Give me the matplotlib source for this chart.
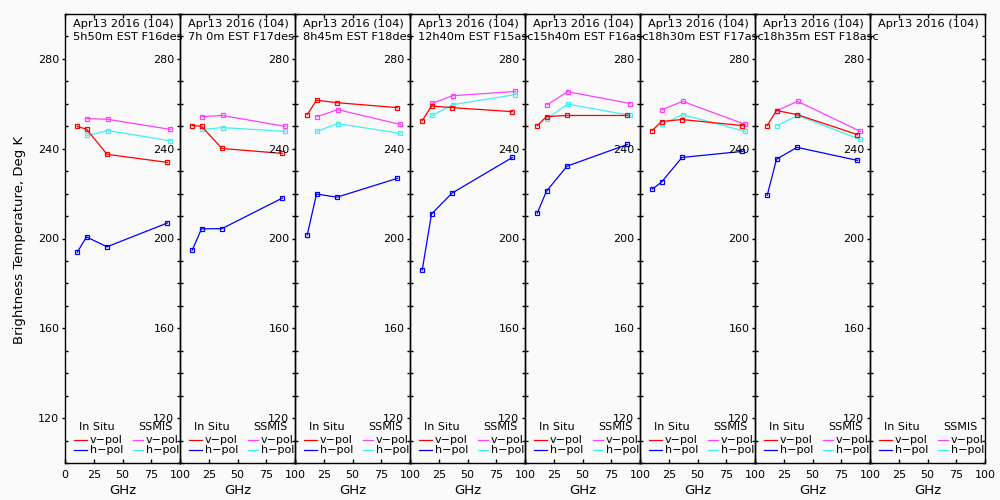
import matplotlib
matplotlib.use("Agg")
import matplotlib.pyplot as plt
from matplotlib.ticker import MultipleLocator, FixedLocator

# ---- data ----
insitu_freq = [10.65, 18.7, 36.5, 89.0]
ssmis_freq = [19.35, 37.0, 91.655]

titles_line1 = ["Apr13 2016 (104)"] * 8
titles_line2 = ["5h50m EST F16des", "7h 0m EST F17des", "8h45m EST F18des",
                "12h40m EST F15asc", "15h40m EST F16asc", "18h30m EST F17asc",
                "18h35m EST F18asc", ""]

insitu_v = [
    [249.9, 248.7, 237.5, 233.9],
    [250.3, 250.0, 240.1, 237.9],
    [255.2, 261.6, 260.5, 258.3],
    [252.5, 259.0, 258.3, 256.5],
    [250.3, 254.3, 254.8, 254.8],
    [248.1, 252.1, 253.0, 250.3],
    [250.3, 257.0, 255.2, 246.3],
    None,
]
insitu_h = [
    [193.9, 200.7, 196.3, 206.9],
    [194.8, 204.3, 204.4, 218.0],
    [201.6, 219.8, 218.4, 226.8],
    [186.0, 210.9, 220.2, 236.1],
    [211.3, 221.1, 232.2, 241.9],
    [222.0, 225.1, 236.1, 238.8],
    [219.3, 235.3, 240.6, 234.8],
    None,
]
ssmis_v = [
    [253.4, 253.1, 248.6],
    [254.3, 254.8, 249.9],
    [254.3, 257.4, 250.8],
    [260.2, 263.6, 265.5],
    [259.6, 265.4, 260.1],
    [257.4, 261.1, 250.8],
    [257.0, 261.1, 247.7],
    None,
]
ssmis_h = [
    [245.9, 248.1, 243.5],
    [248.6, 249.4, 247.7],
    [247.7, 251.2, 246.8],
    [254.8, 259.6, 264.1],
    [253.4, 259.9, 254.8],
    [250.8, 255.2, 247.7],
    [250.3, 254.8, 244.1],
    None,
]

x_ticks = [0, 25, 50, 75, 100]
y_major = [120, 160, 200, 240, 280]

C_RED = "#ff0000"
C_BLUE = "#0000ff"
C_MAG = "#ff40ff"
C_CYAN = "#40f0f0"
BG = "#fafafa"

plt.rcParams['font.family'] = ['DejaVu Sans']
fig = plt.figure(figsize=(10, 5), dpi=100, facecolor=BG)

left0 = 0.065
pw = 0.115
bottom = 0.074
height = 0.898

lw = 0.9
ms = 3.4

for i in range(8):
    ax = fig.add_axes([left0 + i * pw, bottom, pw, height])
    ax.set_facecolor("none")
    ax.set_xlim(0, 100)
    ax.set_ylim(100, 300)
    for sp in ax.spines.values():
        sp.set_linewidth(1.0)
        sp.set_color("black")

    def plot_series(freqs, vals, color):
        if vals is None:
            return
        ax.plot(freqs, vals, color=color, lw=lw, marker="s", ms=ms,
                mfc="none", mec=color, mew=0.9, clip_on=False)

    plot_series(ssmis_freq, ssmis_v[i], C_MAG)
    plot_series(ssmis_freq, ssmis_h[i], C_CYAN)
    plot_series(insitu_freq, insitu_v[i], C_RED)
    plot_series(insitu_freq, insitu_h[i], C_BLUE)

    # x ticks
    ax.xaxis.set_major_locator(FixedLocator(x_ticks))
    if i == 0:
        ax.set_xticklabels([str(t) for t in x_ticks])
    else:
        ax.set_xticklabels([""] + [str(t) for t in x_ticks[1:]])
    ax.tick_params(axis="x", which="major", direction="in", length=3,
                   width=1, top=True, bottom=True, labelsize=8, pad=5)
    ax.set_xlabel("GHz", fontsize=9.5, labelpad=3)

    # y ticks: major outward with labels on left, minor inward both sides
    ax.yaxis.set_major_locator(FixedLocator(y_major))
    ax.yaxis.set_minor_locator(MultipleLocator(10))
    ax.tick_params(axis="y", which="major", direction="out", length=2.5,
                   width=1, left=True, right=False, labelsize=8, pad=1.5)
    ax.tick_params(axis="y", which="minor", direction="in", length=2,
                   width=1, left=True, right=True)
    if i == 7:
        # right-axis major ticks (inward) on the last panel
        for yv in y_major:
            ax.plot([1.0, 0.97], [yv, yv], color="black", lw=1,
                    transform=ax.get_yaxis_transform(), clip_on=False)

    # titles
    ax.text(0.07, 0.978, titles_line1[i], transform=ax.transAxes,
            fontsize=8.2, ha="left", va="center")
    if titles_line2[i]:
        ax.text(0.07, 0.949, titles_line2[i], transform=ax.transAxes,
                fontsize=8.2, ha="left", va="center", clip_on=False)

    # legend
    ax.text(12, 116, "In Situ", fontsize=8, ha="left", va="center")
    ax.text(63.5, 116, "SSMIS", fontsize=8, ha="left", va="center")
    ax.plot([7.8, 19.5], [110.2, 110.2], color=C_RED, lw=lw)
    ax.plot([7.8, 19.5], [105.7, 105.7], color=C_BLUE, lw=lw)
    ax.text(21.7, 110.2, "v\u2212pol", fontsize=8, ha="left", va="center")
    ax.text(21.7, 105.7, "h\u2212pol", fontsize=8, ha="left", va="center")
    ax.plot([59, 68], [110.2, 110.2], color=C_MAG, lw=lw)
    ax.plot([59, 68], [105.7, 105.7], color=C_CYAN, lw=lw)
    ax.text(70.4, 110.2, "v\u2212pol", fontsize=8, ha="left", va="center")
    ax.text(70.4, 105.7, "h\u2212pol", fontsize=8, ha="left", va="center")

fig.text(0.02, 0.52, "Brightness Temperature, Deg K", rotation=90,
         fontsize=9.5, ha="center", va="center")

fig.savefig("out.png", dpi=100, facecolor=BG)
